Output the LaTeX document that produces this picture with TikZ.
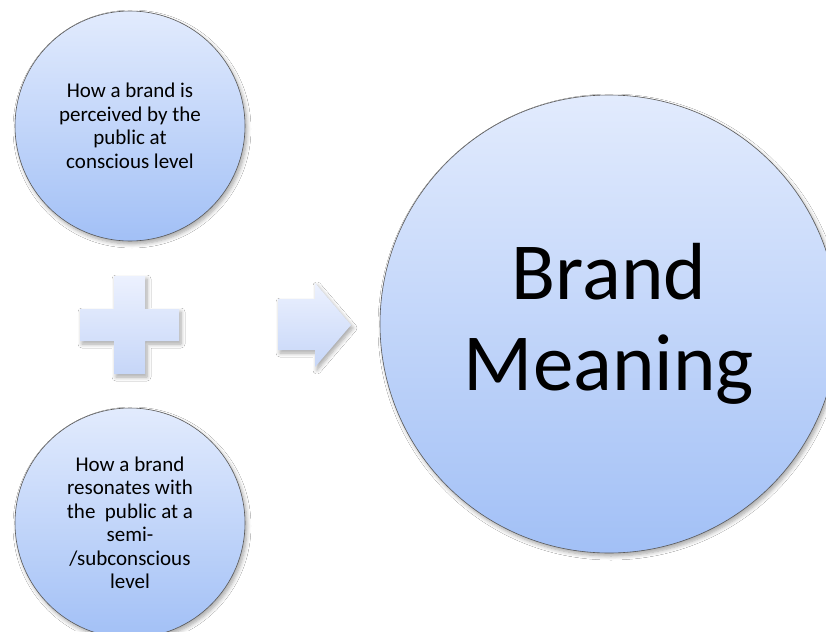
\documentclass[tikz,border=0pt]{standalone}
\usepackage{fontspec}
\setmainfont{Carlito}
\usetikzlibrary{shadows.blur}
\definecolor{ctop}{RGB}{226,235,253}
\definecolor{cbot}{RGB}{162,192,246}
\definecolor{stop}{RGB}{236,241,254}
\definecolor{sbot}{RGB}{198,214,248}
\begin{document}
\begin{tikzpicture}[x=1pt,y=-1pt,
  softshadow/.style={blur shadow={shadow xshift=2pt,shadow yshift=-3pt,shadow blur radius=4pt,shadow blur steps=6,shadow opacity=35}},
  bubble/.style={circle, draw=black!65, line width=0.6pt, top color=ctop, bottom color=cbot,
    inner sep=0pt, align=center, softshadow},
  small/.style={bubble, minimum size=230pt, font=\fontsize{21}{23.5}\selectfont},
  big/.style={bubble, minimum size=458pt, font=\fontsize{81}{91}\selectfont},
  sym/.style={top color=stop, bottom color=sbot, draw=none, softshadow}]
\useasboundingbox (0,0) rectangle (826,631);
\clip (0,0) rectangle (826,631);
\fill[white] (0,0) rectangle (826,631);
\node[big] (bm) at (609,324) {Brand\\Meaning};
\node[small] (top) at (130,126) {How a brand is\\perceived by the\\public at\\conscious level};
\node[small] (bot) at (130,523) {How a brand\\resonates with\\the\ \ public at a\\semi-\\/subconscious\\level};
\path[sym] (114,276) -- (145,276) -- (145,309) -- (179,309) -- (179,341) -- (145,341)
  -- (145,374) -- (114,374) -- (114,341) -- (80,341) -- (80,309) -- (114,309) -- cycle;
\path[sym] (278,299) -- (315,299) -- (315,283) -- (351,325) -- (315,367) -- (315,350)
  -- (278,350) -- cycle;
\end{tikzpicture}
\end{document}
